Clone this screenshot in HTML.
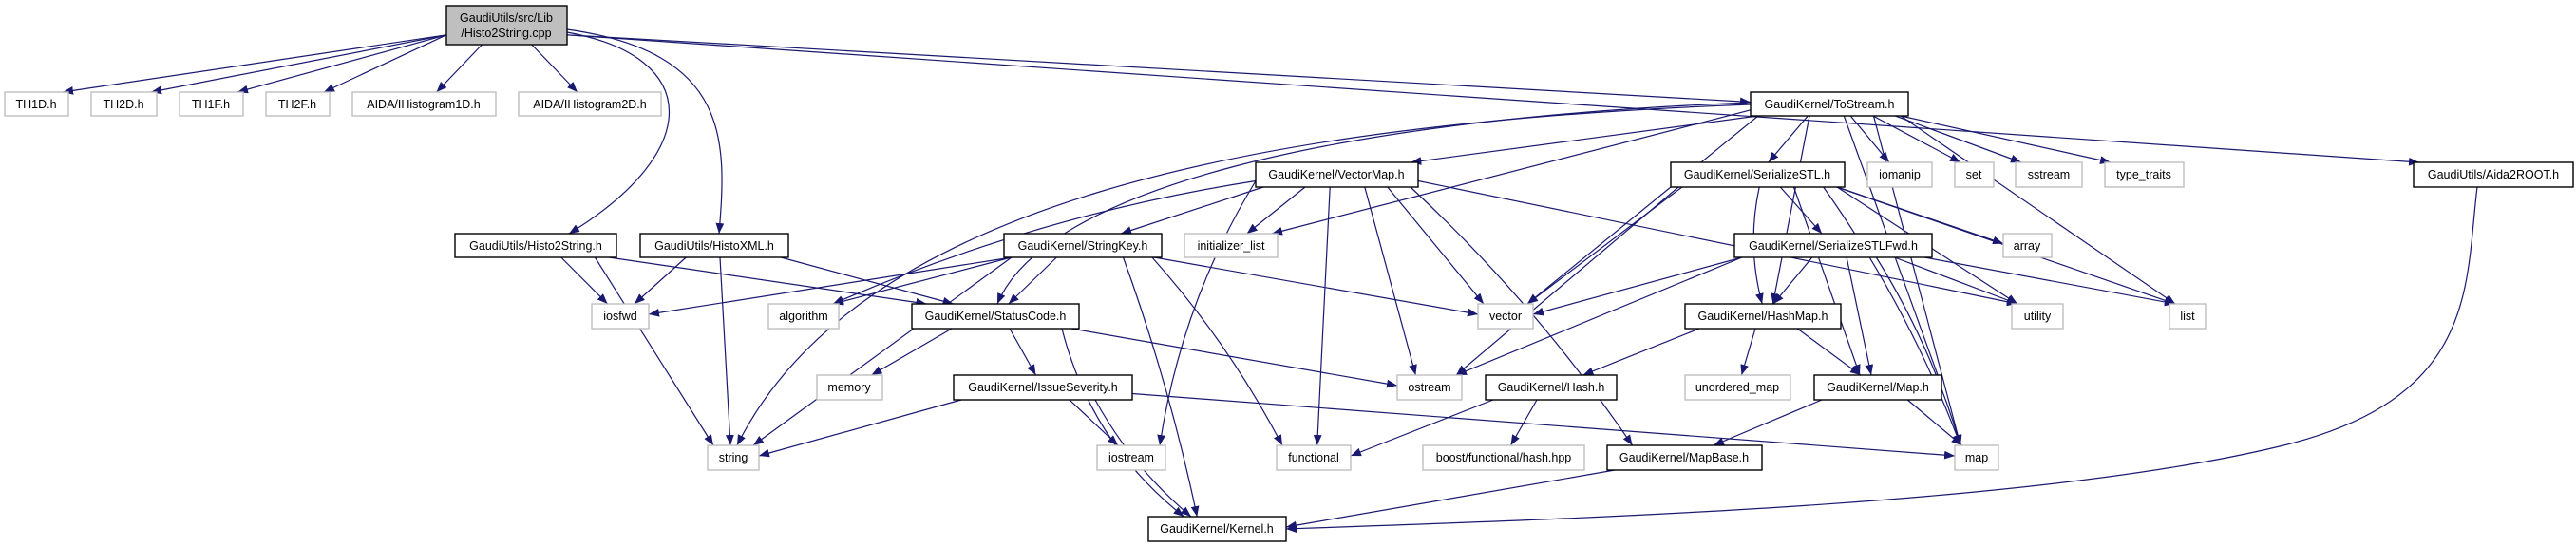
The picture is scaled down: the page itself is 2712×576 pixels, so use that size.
<!DOCTYPE html>
<html><head><meta charset="utf-8">
<style>
html,body{margin:0;padding:0;background:#fff;}
svg{display:block;}
text{font-family:"Liberation Sans",sans-serif;font-size:12.5px;fill:#000;text-anchor:middle;}
.d{fill:#fff;stroke:#000;stroke-width:1.4;}
.e{fill:#fff;stroke:#bfbfbf;stroke-width:1.4;}
.r{fill:#bfbfbf;stroke:#000;stroke-width:1.4;}
#edges path{fill:none;stroke:#191970;stroke-width:1.2;}
</style></head>
<body>
<svg id="g" width="2712" height="576" viewBox="0 0 2712 576" xmlns="http://www.w3.org/2000/svg">
<defs><marker id="a" viewBox="0 0 10 8" refX="10" refY="4" markerWidth="11" markerHeight="9" markerUnits="userSpaceOnUse" orient="auto"><path d="M0,0 L10,4 L0,8 z" fill="#191970"/></marker></defs>
<g id="edges"></g>
<g id="nodes">
<rect class="r" x="470" y="6" width="127" height="41"/><text x="533" y="23">GaudiUtils/src/Lib</text><text x="533" y="39">/Histo2String.cpp</text>
<rect class="e" x="5" y="97" width="67" height="25"/><text x="38" y="114">TH1D.h</text>
<rect class="e" x="96" y="97" width="69" height="25"/><text x="130" y="114">TH2D.h</text>
<rect class="e" x="189" y="97" width="67" height="25"/><text x="222" y="114">TH1F.h</text>
<rect class="e" x="280" y="97" width="67" height="25"/><text x="313" y="114">TH2F.h</text>
<rect class="e" x="371" y="97" width="151" height="25"/><text x="446" y="114">AIDA/IHistogram1D.h</text>
<rect class="e" x="546" y="97" width="150" height="25"/><text x="621" y="114">AIDA/IHistogram2D.h</text>
<rect class="d" x="1843" y="97" width="166" height="25"/><text x="1926" y="114">GaudiKernel/ToStream.h</text>
<rect class="d" x="1322" y="171" width="171" height="26"/><text x="1407" y="188">GaudiKernel/VectorMap.h</text>
<rect class="d" x="1759" y="171" width="183" height="26"/><text x="1850" y="188">GaudiKernel/SerializeSTL.h</text>
<rect class="e" x="1966" y="171" width="68" height="26"/><text x="2000" y="188">iomanip</text>
<rect class="e" x="2058" y="171" width="41" height="26"/><text x="2078" y="188">set</text>
<rect class="e" x="2122" y="171" width="70" height="26"/><text x="2157" y="188">sstream</text>
<rect class="e" x="2216" y="171" width="83" height="26"/><text x="2257" y="188">type_traits</text>
<rect class="d" x="2541" y="171" width="168" height="26"/><text x="2625" y="188">GaudiUtils/Aida2ROOT.h</text>
<rect class="d" x="479" y="246" width="170" height="25"/><text x="564" y="263">GaudiUtils/Histo2String.h</text>
<rect class="d" x="674" y="246" width="156" height="25"/><text x="752" y="263">GaudiUtils/HistoXML.h</text>
<rect class="d" x="1057" y="246" width="166" height="25"/><text x="1140" y="263">GaudiKernel/StringKey.h</text>
<rect class="e" x="1247" y="246" width="98" height="25"/><text x="1296" y="263">initializer_list</text>
<rect class="d" x="1826" y="246" width="208" height="25"/><text x="1930" y="263">GaudiKernel/SerializeSTLFwd.h</text>
<rect class="e" x="2109" y="246" width="51" height="25"/><text x="2134" y="263">array</text>
<rect class="e" x="623" y="320" width="60" height="26"/><text x="653" y="337">iosfwd</text>
<rect class="e" x="809" y="320" width="74" height="26"/><text x="846" y="337">algorithm</text>
<rect class="d" x="960" y="320" width="176" height="26"/><text x="1048" y="337">GaudiKernel/StatusCode.h</text>
<rect class="e" x="1556" y="320" width="58" height="26"/><text x="1585" y="337">vector</text>
<rect class="d" x="1774" y="320" width="164" height="26"/><text x="1856" y="337">GaudiKernel/HashMap.h</text>
<rect class="e" x="2118" y="320" width="54" height="26"/><text x="2145" y="337">utility</text>
<rect class="e" x="2284" y="320" width="38" height="26"/><text x="2303" y="337">list</text>
<rect class="e" x="860" y="395" width="69" height="26"/><text x="894" y="412">memory</text>
<rect class="d" x="1004" y="395" width="188" height="26"/><text x="1098" y="412">GaudiKernel/IssueSeverity.h</text>
<rect class="e" x="1471" y="395" width="68" height="26"/><text x="1505" y="412">ostream</text>
<rect class="d" x="1564" y="395" width="138" height="26"/><text x="1633" y="412">GaudiKernel/Hash.h</text>
<rect class="e" x="1774" y="395" width="111" height="26"/><text x="1829" y="412">unordered_map</text>
<rect class="d" x="1910" y="395" width="134" height="26"/><text x="1977" y="412">GaudiKernel/Map.h</text>
<rect class="e" x="745" y="469" width="54" height="26"/><text x="772" y="486">string</text>
<rect class="e" x="1155" y="469" width="72" height="26"/><text x="1191" y="486">iostream</text>
<rect class="e" x="1344" y="469" width="78" height="26"/><text x="1383" y="486">functional</text>
<rect class="e" x="1498" y="469" width="170" height="26"/><text x="1583" y="486">boost/functional/hash.hpp</text>
<rect class="d" x="1692" y="469" width="163" height="26"/><text x="1773" y="486">GaudiKernel/MapBase.h</text>
<rect class="e" x="2058" y="469" width="46" height="26"/><text x="2081" y="486">map</text>
<rect class="d" x="1209" y="544" width="145" height="26"/><text x="1281" y="561">GaudiKernel/Kernel.h</text>
</g>
</svg>
<script>
var N={root:[470,597,6,47],TH1D:[5,72,97,122],TH2D:[96,165,97,122],TH1F:[189,256,97,122],TH2F:[280,347,97,122],A1:[371,522,97,122],A2:[546,696,97,122],TS:[1843,2009,97,122],VM:[1322,1493,171,197],SS:[1759,1942,171,197],iomanip:[1966,2034,171,197],set:[2058,2099,171,197],sstream:[2122,2192,171,197],tt:[2216,2299,171,197],A2R:[2541,2709,171,197],H2S:[479,649,246,271],HX:[674,830,246,271],SK:[1057,1223,246,271],il:[1247,1345,246,271],SF:[1826,2034,246,271],array:[2109,2160,246,271],iosfwd:[623,683,320,346],alg:[809,883,320,346],SC:[960,1136,320,346],vector:[1556,1614,320,346],HM:[1774,1938,320,346],utility:[2118,2172,320,346],list:[2284,2322,320,346],memory:[860,929,395,421],IS:[1004,1192,395,421],ostream:[1471,1539,395,421],Hash:[1564,1702,395,421],um:[1774,1885,395,421],Map:[1910,2044,395,421],string:[745,799,469,495],iostream:[1155,1227,469,495],func:[1344,1422,469,495],boost:[1498,1668,469,495],MB:[1692,1855,469,495],map:[2058,2104,469,495],K:[1209,1354,544,570]};
var P=["M597,34 C740,60 740,160 599,246","M597,31 C770,55 765,150 757,246","M2608,197 C2595,300 2610,420 2400,470 C2150,530 1700,545 1354,557","M1843,110 C1300,130 900,220 776,469","M1843,108 C1400,125 1100,200 1050,320"];
var E=[["root","TH1D","L"],["root","TH2D","L"],["root","TH1F","L"],["root","TH2F","L"],["root","A1"],["root","A2"],["root","TS","R","L"],["root","A2R","R"],
["H2S","iosfwd"],["H2S","string"],["H2S","SC"],["HX","iosfwd"],["HX","string"],["HX","SC"],
["TS","VM"],["TS","SS"],["TS","iomanip"],["TS","set"],["TS","sstream"],["TS","tt"],["TS","vector"],["TS","list"],["TS","map"],["TS","HM"],["TS","Map","B","R"],["TS","il","L"],
["VM","SK"],["VM","il"],["VM","alg","L","T",-30],["VM","iostream","L","T",-30],["VM","vector"],["VM","ostream"],["VM","func"],["VM","utility","R"],["VM","MB","B","T",20],
["SK","iosfwd","B","R"],["SK","alg"],["SK","SC"],["SK","string"],["SK","func","B","T",15],["SK","K","B","T",10],["SK","vector","B","L"],
["SC","memory"],["SC","IS"],["SC","K","B","T",-40],["SC","ostream","B","L"],
["IS","string","B","R"],["IS","iostream"],["IS","K","B","T",-15],["IS","map","R","L"],
["SS","SF"],["SS","array","B","L"],["SS","vector"],["SS","ostream"],["SS","HM","B","T",-15],["SS","Map"],["SS","list"],["SS","utility"],["SS","map","B","T",20],
["SF","vector","B","R"],["SF","ostream"],["SF","HM"],["SF","Map"],["SF","utility"],["SF","list"],["SF","map","B","T",15],
["HM","Hash"],["HM","um"],["HM","Map"],["Hash","func","B","R"],["Hash","boost"],["Map","MB"],["Map","map"],["MB","K","B","R"]];
var g=document.getElementById("edges"),s="";
function cl(v,a,b){return Math.max(a,Math.min(b,v));}
P.forEach(function(d){s+='<path d="'+d+'" marker-end="url(#a)"/>';});
E.forEach(function(e){var a=N[e[0]],b=N[e[1]];var ac=(a[0]+a[1])/2,bc=(b[0]+b[1])/2;
var sm=e[2]||"B",em=e[3]||"T",bend=e[4]||0;
var sx,sy,tx,ty;
if(sm=="B"){sx=cl(ac+(bc-ac)*0.3,a[0]+8,a[1]-8);sy=a[3];}
else if(sm=="R"){sx=a[1];sy=a[2]+(a[3]-a[2])*0.75;}
else{sx=a[0];sy=a[2]+(a[3]-a[2])*0.75;}
if(em=="T"){tx=cl(bc+(ac-bc)*0.15,b[0]+6,b[1]-6);ty=b[2];}
else if(em=="R"){tx=b[1];ty=(b[2]+b[3])/2-2;}
else{tx=b[0];ty=(b[2]+b[3])/2-2;}
var d;
if(!bend){d="M"+sx.toFixed(1)+","+sy.toFixed(1)+" L"+tx.toFixed(1)+","+ty.toFixed(1);}
else{var mx=(sx+tx)/2,my=(sy+ty)/2,vx=tx-sx,vy=ty-sy,l=Math.sqrt(vx*vx+vy*vy);
var cx=mx+(vy/l)*bend,cy=my-(vx/l)*bend;
d="M"+sx.toFixed(1)+","+sy.toFixed(1)+" Q"+cx.toFixed(1)+","+cy.toFixed(1)+" "+tx.toFixed(1)+","+ty.toFixed(1);}
s+='<path d="'+d+'" marker-end="url(#a)"/>';});
g.innerHTML=s;
</script>
</body></html>
